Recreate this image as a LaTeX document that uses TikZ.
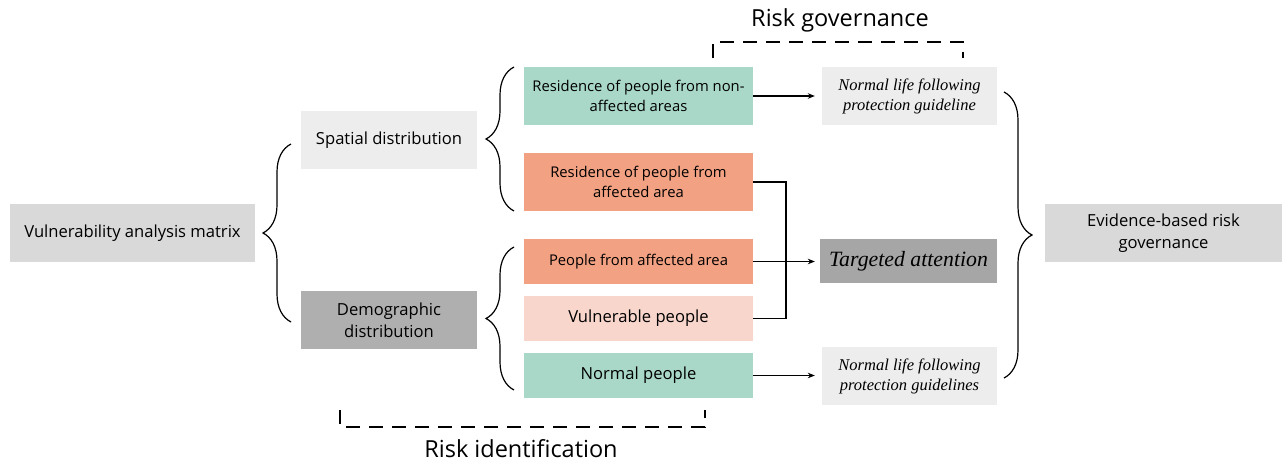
\documentclass[tikz,border=0pt]{standalone}
\usepackage{fontspec}
\setmainfont{Open Sans}
\newfontfamily\serifit{Liberation Serif}
\usetikzlibrary{arrows.meta,decorations.pathreplacing}
\definecolor{grayA}{HTML}{D9D9D9}
\definecolor{grayL}{HTML}{EDEDED}
\definecolor{grayD}{HTML}{AFAFAF}
\definecolor{grayT}{HTML}{A6A6A6}
\definecolor{tealL}{HTML}{A9D8C8}
\definecolor{salmon}{HTML}{F2A283}
\definecolor{pinkL}{HTML}{F8D6CB}
\tikzset{
  box/.style={inner sep=0pt, align=center, font=\fontsize{16.6}{22}\selectfont},
  smallbox/.style={box, font=\fontsize{14.8}{20}\selectfont},
  itbox/.style={box, font=\serifit\itshape\fontsize{16.5}{20}\selectfont},
  conn/.style={line width=1.2pt},
  arr/.style={conn, -{Stealth[length=7pt,width=5.5pt]}},
  brc/.style={line width=1.2pt, decorate, decoration={brace, amplitude=#1}},
  dashbr/.style={line width=1.3pt, dash pattern=on 14pt off 9pt},
  title/.style={inner sep=0pt, font=\fontsize{23.5}{28}\selectfont}
}
\begin{document}
\begin{tikzpicture}[x=1pt,y=-1pt]
\useasboundingbox (0,0) rectangle (1282,462);
% boxes
\node[box, fill=grayA, minimum width=245pt, minimum height=58pt] (vam) at (132.5,233) {Vulnerability analysis matrix};
\node[box, fill=grayL, minimum width=176pt, minimum height=58pt] (sp) at (389,140) {Spatial distribution};
\node[box, fill=grayD, minimum width=176pt, minimum height=58pt] (dd) at (389,320) {Demographic\\distribution};
\node[smallbox, fill=tealL, minimum width=229pt, minimum height=58pt] (rna) at (638.5,96) {Residence of people from non-\\affected areas};
\node[smallbox, fill=salmon, minimum width=229pt, minimum height=58pt] (ra) at (638.5,182) {Residence of people from\\affected area};
\node[smallbox, fill=salmon, minimum width=229pt, minimum height=45pt] (pfa) at (638.5,261.5) {People from affected area};
\node[box, fill=pinkL, minimum width=229pt, minimum height=45pt] (vp) at (638.5,318.5) {Vulnerable people};
\node[box, fill=tealL, minimum width=229pt, minimum height=45pt] (np) at (638.5,375.5) {Normal people};
\node[itbox, fill=grayL, minimum width=175pt, minimum height=58pt] (nl1) at (909.5,96) {Normal life following\\protection guideline};
\node[box, font=\serifit\itshape\fontsize{21.8}{26}\selectfont, fill=grayT, minimum width=177pt, minimum height=44pt] (ta) at (908.5,261) {Targeted attention};
\node[itbox, fill=grayL, minimum width=175pt, minimum height=58pt] (nl2) at (909.5,376) {Normal life following\\protection guidelines};
\node[box, fill=grayA, minimum width=237pt, minimum height=58pt] (ebr) at (1163.5,233) {Evidence-based risk\\governance};
% braces
\coordinate (b1s) at (291,322); \coordinate (b1e) at (291,144);
\draw[brc=28pt] (b1s) -- (b1e);
\coordinate (b2s) at (514,211); \coordinate (b2e) at (514,67);
\draw[brc=28pt] (b2s) -- (b2e);
\coordinate (b3s) at (514,390); \coordinate (b3e) at (514,247);
\draw[brc=28pt] (b3s) -- (b3e);
\coordinate (b4s) at (1004,92); \coordinate (b4e) at (1004,378);
\draw[brc=28pt] (b4s) -- (b4e);
% connectors
\draw[arr] (rna.east) -- ([xshift=-7pt]rna.east -| nl1.west);
\draw[arr] (pfa.east) -- ([xshift=-5pt]pfa.east -| ta.west);
\draw[arr] (np.east) -- ([xshift=-7pt]np.east -| nl2.west);
\coordinate (jx) at (786,0);
\draw[conn] (ra.east) -| (jx |- vp.east) -- (vp.east);
% dashed brackets
\node[title] (rg) at (840,20) {Risk governance};
\coordinate (g1) at (713,58); \coordinate (g2) at (713,42);
\coordinate (g3) at (963,42); \coordinate (g4) at (963,58);
\draw[dashbr] (g1) -- (g2) -- (g3) -- (g4);
\node[title] (ri) at (521,449) {Risk identification};
\coordinate (i1) at (340,410); \coordinate (i2) at (340,427);
\coordinate (i3) at (705,427); \coordinate (i4) at (705,410);
\draw[dashbr] (i1) -- (i2) -- (i3) -- (i4);
\end{tikzpicture}
\end{document}
